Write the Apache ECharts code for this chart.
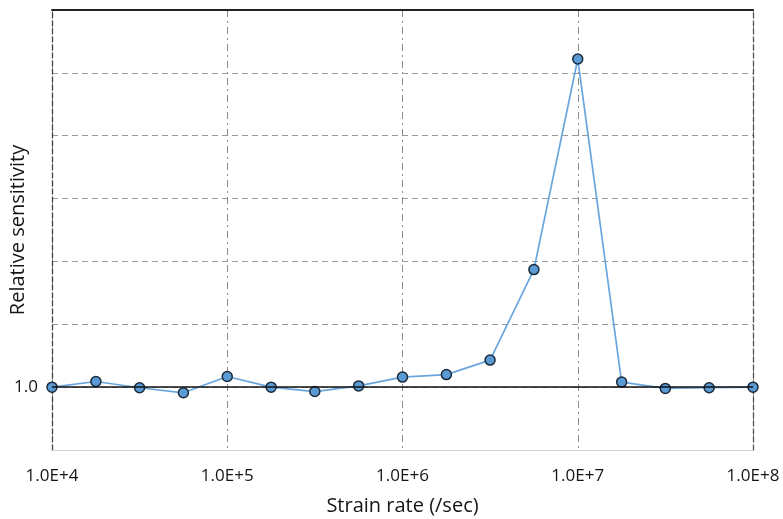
<!DOCTYPE html>
<html>
<head>
<meta charset="utf-8">
<script src="https://cdn.jsdelivr.net/npm/echarts@6/dist/echarts.min.js"></script>
<style>
  html, body { margin: 0; padding: 0; background: #fff; }
  #chart { width: 783px; height: 519px; }
</style>
</head>
<body>
<div id="chart"></div>
<script>
// Strain rates, four steps per decade (1/sec)
const strainRate = [1.0e4, 1.78e4, 3.16e4, 5.62e4, 1.0e5, 1.78e5, 3.16e5, 5.62e5,
                    1.0e6, 1.78e6, 3.16e6, 5.62e6, 1.0e7, 1.78e7, 3.16e7, 5.62e7, 1.0e8];
// Relative sensitivity at each strain rate
const sensitivity = [1.0, 1.09, 0.99, 0.91, 1.17, 1.0, 0.93, 1.02,
                     1.16, 1.2, 1.43, 2.87, 6.22, 1.08, 0.98, 0.99, 1.0];
// Reference level
const baseline = 1.0;
const yMin = 0, yMax = 7, yStep = 1;

const points = strainRate.map((x, i) => [x, sensitivity[i]]);
const font = '"Open Sans", "Noto Sans", sans-serif';

const chart = echarts.init(document.getElementById('chart'), null, { renderer: 'canvas' });
chart.setOption({
  animation: false,
  backgroundColor: '#ffffff',
  grid: { left: 52, right: 30, top: 10, bottom: 69, containLabel: false, outerBoundsMode: 'none' },
  xAxis: [{
    type: 'log',
    logBase: 10,
    min: 1e4,
    max: 1e8,
    name: 'Strain rate (/sec)',
    nameLocation: 'middle',
    nameGap: 46,
    nameMoveOverlap: false,
    nameTextStyle: { fontFamily: font, fontSize: 20, color: '#151515' },
    axisLine: { show: true, onZero: false, lineStyle: { color: '#cfcfcf', width: 1 } },
    axisTick: { show: false },
    axisLabel: {
      fontFamily: font, fontSize: 17, color: '#151515', margin: 18,
      formatter: v => '1.0E+' + Math.round(Math.log10(v))
    },
    splitLine: {
      show: true,
      lineStyle: { color: '#8a8a8a', width: 1, type: [7, 4, 2, 4] }
    }
  }, {
    type: 'log',
    logBase: 10,
    min: 1e4,
    max: 1e8,
    position: 'top',
    z: 5,
    axisLine: { show: true, onZero: false, lineStyle: { color: '#222', width: 2 } },
    axisTick: { show: false },
    axisLabel: { show: false },
    splitLine: { show: false }
  }],
  yAxis: [{
    type: 'value',
    min: yMin,
    max: yMax,
    interval: yStep,
    name: 'Relative sensitivity',
    nameLocation: 'middle',
    nameGap: 24,
    nameMoveOverlap: false,
    nameTextStyle: { fontFamily: font, fontSize: 20, color: '#151515' },
    axisLine: { show: true, onZero: false, lineStyle: { color: '#444', width: 1.3, type: [5, 3] } },
    axisTick: { show: false },
    axisLabel: {
      fontFamily: font, fontSize: 17, color: '#151515', margin: 14,
      formatter: v => (v === baseline ? baseline.toFixed(1) : '')
    },
    splitLine: {
      show: true,
      showMinLine: false,
      showMaxLine: false,
      lineStyle: { color: '#9a9a9a', width: 1, type: [6, 4] }
    }
  }, {
    type: 'value',
    min: yMin,
    max: yMax,
    interval: yStep,
    position: 'right',
    axisLine: { show: true, onZero: false, lineStyle: { color: '#555', width: 1.3, type: [5, 3] } },
    axisTick: { show: false },
    axisLabel: { show: false },
    splitLine: { show: false }
  }],
  series: [{
    type: 'line',
    data: [],
    z: 1,
    silent: true,
    markLine: {
      silent: true,
      symbol: 'none',
      label: { show: false },
      lineStyle: { color: '#111', width: 1.7, type: 'solid' },
      data: [{ yAxis: baseline }]
    }
  }, {
    type: 'line',
    data: points,
    z: 3,
    clip: false,
    symbol: 'circle',
    symbolSize: 10,
    showAllSymbol: true,
    lineStyle: { color: '#6aa6de', width: 1.7 },
    itemStyle: { color: '#5b9bd5', borderColor: '#1c2a3a', borderWidth: 1.5 }
  }]
});
</script>
</body>
</html>
